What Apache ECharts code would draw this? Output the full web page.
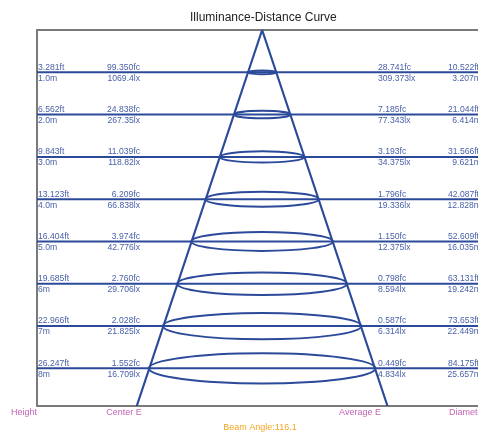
<!DOCTYPE html>
<html>
<head>
<meta charset="utf-8">
<script src="https://cdn.jsdelivr.net/npm/echarts@6/dist/echarts.min.js"></script>
<style>
html,body{margin:0;padding:0;background:#fff;}
#main{width:478px;height:432px;}
</style>
</head>
<body>
<div id="main"></div>
<script>
// ---- data ----
var heightsM   = [1, 2, 3, 4, 5, 6, 7, 8];
var heightMLbl = ['1.0m', '2.0m', '3.0m', '4.0m', '5.0m', '6m', '7m', '8m'];
var heightFt   = ['3.281ft', '6.562ft', '9.843ft', '13.123ft', '16.404ft', '19.685ft', '22.966ft', '26.247ft'];
var centerFc   = ['99.350fc', '24.838fc', '11.039fc', '6.209fc', '3.974fc', '2.760fc', '2.028fc', '1.552fc'];
var centerLx   = ['1069.4lx', '267.35lx', '118.82lx', '66.838lx', '42.776lx', '29.706lx', '21.825lx', '16.709lx'];
var avgFc      = ['28.741fc', '7.185fc', '3.193fc', '1.796fc', '1.150fc', '0.798fc', '0.587fc', '0.449fc'];
var avgLx      = ['309.373lx', '77.343lx', '34.375lx', '19.336lx', '12.375lx', '8.594lx', '6.314lx', '4.834lx'];
var diamFt     = ['10.522ft', '21.044ft', '31.566ft', '42.087ft', '52.609ft', '63.131ft', '73.653ft', '84.175ft'];
var diamM      = [3.207, 6.414, 9.621, 12.828, 16.035, 19.242, 22.449, 25.657];
var diamMLbl   = ['3.207m', '6.414m', '9.621m', '12.828m', '16.035m', '19.242m', '22.449m', '25.657m'];
var footLabels = ['Height', 'Center E', 'Average E', 'Diameter'];
var beamAngle  = 116.1;
var titleText  = 'Illuminance-Distance Curve';
var coneApex   = [0, 0];
var coneBaseHalf = 14.2;   // half diameter (m) at bottom of frame
var yMax = 8.89, xMin = -25.5, xMax = 24.45;

var LINE = '#2c4a9a', TXT = '#4a62a8', PINK = '#c464b6', ORANGE = '#f5a623', FRAME = '#7a7a7a';
var FONT = 'Liberation Sans, Arial, sans-serif';

var rows = heightsM.map(function (h, i) { return [h, diamM[i], i]; });

var chart = echarts.init(document.getElementById('main'), null, {renderer: 'canvas'});

function txt(x, y, s, align, vAlign, color, size) {
  return {type: 'text', style: {x: x, y: y, text: s, fill: color, fontSize: size, fontFamily: FONT, align: align, verticalAlign: vAlign}};
}
var frameAxis = {show: true, onZero: false, lineStyle: {color: FRAME, width: 2}};

chart.setOption({
  animation: false,
  grid: {left: 37, top: 30, right: 0, bottom: 26, show: false},
  xAxis: [
    {type: 'value', min: xMin, max: xMax, position: 'bottom', axisLine: frameAxis, axisTick: {show: false}, axisLabel: {show: false}, splitLine: {show: false}},
    {type: 'value', min: xMin, max: xMax, position: 'top', axisLine: frameAxis, axisTick: {show: false}, axisLabel: {show: false}, splitLine: {show: false}}
  ],
  yAxis: {type: 'value', min: 0, max: yMax, inverse: true, position: 'left', axisLine: frameAxis, axisTick: {show: false}, axisLabel: {show: false}, splitLine: {show: false}},
  graphic: [
    {type: 'text', left: 262 - 72, top: 12, style: {text: titleText, fill: '#222', fontSize: 12, fontFamily: FONT}},
    {type: 'text', x: 24, y: 413, style: {text: footLabels[0], fill: PINK, fontSize: 9, fontFamily: FONT, align: 'center', verticalAlign: 'middle'}},
    {type: 'text', x: 124, y: 413, style: {text: footLabels[1], fill: PINK, fontSize: 9, fontFamily: FONT, align: 'center', verticalAlign: 'middle'}},
    {type: 'text', x: 360, y: 413, style: {text: footLabels[2], fill: PINK, fontSize: 9, fontFamily: FONT, align: 'center', verticalAlign: 'middle'}},
    {type: 'text', x: 449, y: 413, style: {text: footLabels[3], fill: PINK, fontSize: 9, fontFamily: FONT, align: 'left', verticalAlign: 'middle'}},
    {type: 'text', x: 260, y: 428, style: {text: 'Beam Angle:' + beamAngle, fill: ORANGE, fontSize: 9, fontFamily: FONT, align: 'center', verticalAlign: 'middle'}}
  ],
  series: [
    {
      type: 'custom',
      coordinateSystem: 'cartesian2d',
      data: rows,
      encode: {x: 1, y: 0},
      renderItem: function (params, api) {
        var h = api.value(0), d = api.value(1), i = api.value(2);
        var c = api.coord([coneApex[0], h]);
        var e = api.coord([coneApex[0] + d / 2, h]);
        var cs = params.coordSys;
        var y = c[1];
        var rx = e[0] - c[0], ry = rx * 0.133;
        var up = y - 5, dn = y + 6, fs = 8.6;
        return {
          type: 'group',
          children: [
            {type: 'line', shape: {x1: cs.x, y1: y, x2: cs.x + cs.width + 5, y2: y}, style: {stroke: LINE, lineWidth: 2}},
            {type: 'ellipse', shape: {cx: c[0], cy: y, rx: rx, ry: ry}, style: {stroke: LINE, lineWidth: 2, fill: null}},
            txt(38, up, heightFt[i], 'left', 'middle', TXT, fs),
            txt(38, dn, heightMLbl[i], 'left', 'middle', TXT, fs),
            txt(140, up, centerFc[i], 'right', 'middle', TXT, fs),
            txt(140, dn, centerLx[i], 'right', 'middle', TXT, fs),
            txt(378, up, avgFc[i], 'left', 'middle', TXT, fs),
            txt(378, dn, avgLx[i], 'left', 'middle', TXT, fs),
            txt(479, up, diamFt[i], 'right', 'middle', TXT, fs),
            txt(481, dn, diamMLbl[i], 'right', 'middle', TXT, fs)
          ]
        };
      },
      z: 3
    },
    {
      type: 'line',
      data: [[-coneBaseHalf, yMax], coneApex, [coneBaseHalf, yMax]],
      symbol: 'none',
      lineStyle: {color: LINE, width: 2.2},
      z: 4
    }
  ]
});
</script>
</body>
</html>
